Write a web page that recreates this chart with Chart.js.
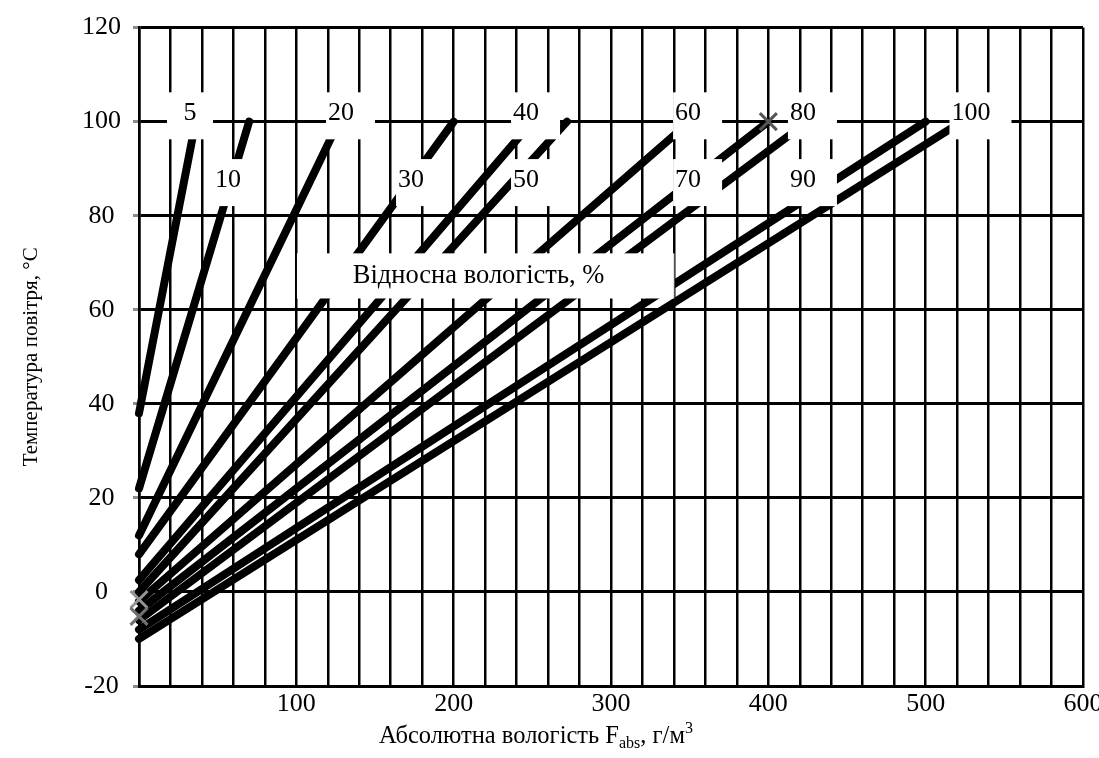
<!DOCTYPE html>
<html>
<head>
<meta charset="utf-8">
<script src="https://cdn.jsdelivr.net/npm/chart.js@4.4.1/dist/chart.umd.min.js"></script>
<style>
  body { margin: 0; background: #fff; }
  #wrap { width: 1099px; height: 758px; }
</style>
</head>
<body>
<div id="wrap"><canvas id="humidity" width="1099" height="758"></canvas></div>
<script>
// relative humidity lines: T (°C) against absolute humidity (g/m3)
var rhNames = ['5', '10', '20', '30', '40', '50', '60', '70', '80', '90', '100'];
var startF = [0, 0, 0, 0, 0, 0, 0, 0, 0, 0, 0];
var startT = [38, 22, 12, 8, 2.5, 0, -2, -4, -6, -8, -10];
var endF = [36, 70, 127, 200, 250, 272, 350, 400, 425, 500, 523];
var endT = [100, 100, 100, 100, 100, 100, 100, 100, 100, 100, 100];

// grey "x" markers
var markF = [0, 0, 400];
var markT = [-1.6, -5.2, 100];

var xTicks = [100, 200, 300, 400, 500, 600];

// where the line names sit (data units)
var nameSpots = [
  [32.4, 102.2], [56.6, 88], [128.4, 102.2], [172.9, 88], [246, 102.2], [246, 88],
  [349, 102.2], [349, 88], [422, 102.2], [422, 88], [528.8, 102.2]
];
var serif = '"Liberation Serif", "Times New Roman", serif';

Chart.defaults.font.family = serif;
Chart.defaults.color = '#000';

var lineSets = rhNames.map(function (n, i) {
  return {
    label: n + '%',
    data: [{x: startF[i], y: startT[i]}, {x: endF[i], y: endT[i]}],
    borderColor: '#000',
    borderWidth: 8,
    borderCapStyle: 'round',
    pointRadius: 0,
    showLine: true,
    clip: 6
  };
});

var markSet = {
  label: 'marks',
  data: markF.map(function (f, i) { return {x: f, y: markT[i]}; }),
  showLine: false,
  pointStyle: 'crossRot',
  pointRadius: 12,
  pointBorderWidth: 3,
  pointBorderColor: ['#959595', '#707070', '#555'],
  clip: 14
};

var labelsPlugin = {
  id: 'rhLabels',
  afterDatasetsDraw: function (chart) {
    var ctx = chart.ctx, x = chart.scales.x, y = chart.scales.y;
    ctx.save();
    ctx.font = '26px ' + serif;
    ctx.textBaseline = 'alphabetic';
    rhNames.forEach(function (n, i) {
      var cx = x.getPixelForValue(nameSpots[i][0]);
      var cy = y.getPixelForValue(nameSpots[i][1]);
      var w = ctx.measureText(n).width;
      var bw = Math.max(w + 23, 46);
      var left = (w + 23 < 46) ? cx - bw / 2 : cx - w / 2 - 2;
      ctx.fillStyle = '#fff';
      ctx.fillRect(left, cy - 19, bw, 47);
      ctx.fillStyle = '#000';
      ctx.textAlign = 'center';
      ctx.fillText(n, cx, cy + 9);
    });

    // caption box
    var l = x.getPixelForValue(100.4), r = x.getPixelForValue(340);
    var t = y.getPixelForValue(72), b = y.getPixelForValue(62.4);
    ctx.fillStyle = '#fff';
    ctx.fillRect(l, t, r - l, b - t);
    ctx.strokeStyle = '#555';
    ctx.lineWidth = 1;
    ctx.beginPath();
    ctx.moveTo(r + 0.5, t);
    ctx.lineTo(r + 0.5, b);
    ctx.stroke();
    ctx.fillStyle = '#000';
    ctx.textAlign = 'center';
    ctx.font = '26.5px ' + serif;
    ctx.fillText('Відносна вологість, %', x.getPixelForValue(215.8), y.getPixelForValue(67.7) + 9);
    ctx.restore();
  },
  afterDraw: function (chart) {
    // x axis title with subscript and superscript
    var ctx = chart.ctx;
    var parts = [
      {t: 'Абсолютна вологість F', s: 24.5, dy: 0},
      {t: 'abs', s: 16, dy: 5},
      {t: ', г/м', s: 24.5, dy: 0},
      {t: '3', s: 16, dy: -10}
    ];
    ctx.save();
    ctx.fillStyle = '#000';
    ctx.textAlign = 'left';
    ctx.textBaseline = 'alphabetic';
    var total = 0;
    parts.forEach(function (p) { ctx.font = p.s + 'px ' + serif; p.w = ctx.measureText(p.t).width; total += p.w; });
    var px = 536 - total / 2, base = 743;
    parts.forEach(function (p) {
      ctx.font = p.s + 'px ' + serif;
      ctx.fillText(p.t, px, base + p.dy);
      px += p.w;
    });
    ctx.restore();
  }
};

new Chart(document.getElementById('humidity'), {
  type: 'scatter',
  data: { datasets: [markSet].concat(lineSets) },
  options: {
    responsive: false,
    animation: false,
    layout: { padding: { left: 0, top: 25, right: 16, bottom: 0 } },
    plugins: { legend: { display: false }, tooltip: { enabled: false } },
    scales: {
      x: {
        type: 'linear', min: 0, max: 600,
        ticks: {
          stepSize: 20, autoSkip: false, maxRotation: 0, padding: 3,
          font: { size: 26 },
          callback: function (v) { return xTicks.indexOf(v) >= 0 ? String(v) : ''; }
        },
        grid: { color: '#000', lineWidth: 2.5, drawTicks: false },
        border: { color: '#000', width: 3 },
        afterFit: function (s) { s.height = 72; s.paddingLeft = 0; s.paddingRight = 0; }
      },
      y: {
        type: 'linear', min: -20, max: 120,
        ticks: { stepSize: 20, crossAlign: 'center', padding: 12, font: { size: 26 } },
        grid: { color: '#000', lineWidth: 3, tickLength: 6, tickColor: '#8c8c8c', tickWidth: 3 },
        border: { color: '#000', width: 2.5 },
        title: {
          display: true, text: 'Температура повітря, °C',
          font: { size: 21 }, padding: { top: 19, bottom: 0 }
        },
        afterFit: function (s) { s.width = 139; }
      }
    }
  },
  plugins: [labelsPlugin]
});
</script>
</body>
</html>
